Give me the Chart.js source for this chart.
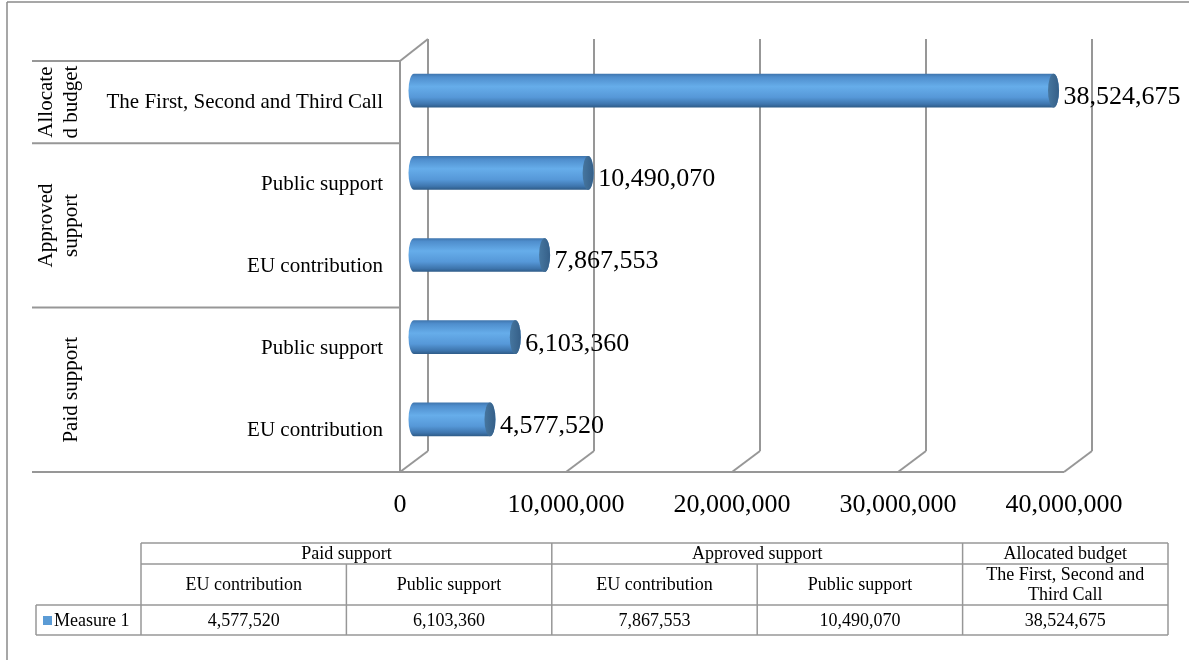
<!DOCTYPE html>
<html>
<head>
<meta charset="utf-8">
<script src="https://cdn.jsdelivr.net/npm/chart.js@4.4.0/dist/chart.umd.min.js"></script>
<style>
  html, body { margin: 0; padding: 0; background: #fff; }
  #wrap { width: 1189px; height: 660px; position: relative; }
</style>
</head>
<body>
<div id="wrap"><canvas id="chart" width="1189" height="660"></canvas></div>
<script>
// data, in table order (first item is drawn at the bottom of the axis)
const groups = ['Paid support', 'Paid support', 'Approved support', 'Approved support', 'Allocated budget'];
const categories = ['EU contribution', 'Public support', 'EU contribution', 'Public support', 'The First, Second and Third Call'];
const values = [4577520, 6103360, 7867553, 10490070, 38524675];
const xTicks = [0, 10000000, 20000000, 30000000, 40000000];
const seriesName = 'Measure 1';
// how the group names wrap on the rotated axis
const groupAxisLines = {
    'Paid support': ['', 'Paid support'],
    'Approved support': ['Approved', 'support'],
    'Allocated budget': ['Allocate', 'd budget']
};

const SERIF = "'Liberation Serif', 'Times New Roman', serif";
const LINE = '#979797';
const DEPTH_X = 28, DEPTH_Y = 21;   // back wall offset

const fmt = v => Number(v).toLocaleString('en-US');

// group runs: [{name, from, to}]
function groupRuns() {
    const runs = [];
    groups.forEach((g, i) => {
        const last = runs[runs.length - 1];
        if (last && last.name === g) last.to = i;
        else runs.push({ name: g, from: i, to: i });
    });
    return runs;
}

function line(ctx, x1, y1, x2, y2) {
    ctx.beginPath();
    ctx.moveTo(x1, y1);
    ctx.lineTo(x2, y2);
    ctx.stroke();
}

// walls, grid and the multi-level category lines
const wallsPlugin = {
    id: 'walls',
    beforeDatasetsDraw(chart) {
        const { ctx, chartArea: a, scales: { x, y } } = chart;
        ctx.save();
        ctx.strokeStyle = LINE;
        ctx.lineWidth = 2;
        // left wall
        line(ctx, a.left, a.top, a.left, a.bottom);
        line(ctx, a.left, a.top, a.left + DEPTH_X, a.top - DEPTH_Y - 1);
        // back gridlines with floor diagonals
        xTicks.forEach(v => {
            const px = x.getPixelForValue(v);
            line(ctx, px + DEPTH_X, a.top - DEPTH_Y - 1, px + DEPTH_X, a.bottom - DEPTH_Y);
            line(ctx, px, a.bottom, px + DEPTH_X, a.bottom - DEPTH_Y);
        });
        // floor front edge + category table lines
        const catH = (a.bottom - a.top) / categories.length;
        const tableLeft = 32;
        line(ctx, tableLeft, a.bottom, x.getPixelForValue(xTicks[xTicks.length - 1]), a.bottom);
        groupRuns().forEach(run => {
            const p1 = y.getPixelForValue(run.from), p2 = y.getPixelForValue(run.to);
            const top = Math.min(p1, p2) - catH / 2;
            const bottom = Math.max(p1, p2) + catH / 2;
            line(ctx, tableLeft, top, a.left, top);
            // rotated group name
            const lines = groupAxisLines[run.name] || [run.name];
            ctx.fillStyle = '#000';
            ctx.font = '21px ' + SERIF;
            ctx.textAlign = 'center';
            ctx.textBaseline = 'middle';
            lines.forEach((t, k) => {
                if (!t) return;
                ctx.save();
                ctx.translate(46 + k * 25, (top + bottom) / 2);
                ctx.rotate(-Math.PI / 2);
                ctx.fillText(t, 0, 0);
                ctx.restore();
            });
        });
        ctx.restore();
    }
};

function cylinder(ctx, x0, x1, yc, h) {
    const r = h / 2, rx = 5.5;
    const g = ctx.createLinearGradient(0, yc - r, 0, yc + r);
    g.addColorStop(0, '#3f75ad');
    g.addColorStop(0.1, '#4f8ecd');
    g.addColorStop(0.38, '#66adea');
    g.addColorStop(0.7, '#5698d8');
    g.addColorStop(0.9, '#3e75ad');
    g.addColorStop(1, '#2e5b87');
    ctx.beginPath();
    ctx.ellipse(x0, yc, rx, r, 0, Math.PI / 2, Math.PI * 1.5);
    ctx.lineTo(x1, yc - r);
    ctx.ellipse(x1, yc, rx, r, 0, -Math.PI / 2, Math.PI / 2);
    ctx.closePath();
    ctx.fillStyle = g;
    ctx.fill();
    // end cap
    const c = ctx.createLinearGradient(x1 - rx, 0, x1 + rx, 0);
    c.addColorStop(0, '#46769f');
    c.addColorStop(1, '#355f88');
    ctx.beginPath();
    ctx.ellipse(x1, yc, rx, r, 0, 0, Math.PI * 2);
    ctx.fillStyle = c;
    ctx.fill();
}

// cylinder bars and value labels
const cylinderPlugin = {
    id: 'cylinders',
    afterDatasetsDraw(chart) {
        const { ctx } = chart;
        const meta = chart.getDatasetMeta(0);
        ctx.save();
        meta.data.forEach((bar, i) => {
            const dx = DEPTH_X / 2, dy = -11.5;
            cylinder(ctx, bar.base + dx, bar.x + dx, bar.y + dy, bar.height);
            ctx.fillStyle = '#000';
            ctx.font = '26px ' + SERIF;
            ctx.textAlign = 'left';
            ctx.textBaseline = 'middle';
            ctx.fillText(fmt(values[i]), bar.x + 24, bar.y - 5);
        });
        ctx.restore();
    }
};

// data table under the chart, plus the outer frame
const tablePlugin = {
    id: 'dataTable',
    afterDraw(chart) {
        const { ctx } = chart;
        const left = 141, right = 1168, legendLeft = 36;
        const rows = [543, 564, 605, 635];
        const colW = (right - left) / categories.length;
        ctx.save();
        ctx.strokeStyle = LINE;
        ctx.lineWidth = 1.5;
        ctx.fillStyle = '#000';
        ctx.font = '18px ' + SERIF;
        ctx.textAlign = 'center';
        ctx.textBaseline = 'middle';

        // header row 1: groups
        line(ctx, left, rows[0], right, rows[0]);
        groupRuns().forEach(run => {
            const x0 = left + run.from * colW, x1 = left + (run.to + 1) * colW;
            line(ctx, x0, rows[0], x0, rows[1]);
            ctx.fillText(run.name, (x0 + x1) / 2, (rows[0] + rows[1]) / 2 + 1);
        });
        line(ctx, right, rows[0], right, rows[3]);
        line(ctx, left, rows[1], right, rows[1]);

        // header row 2: categories (wrapped to the cell)
        categories.forEach((c, i) => {
            const x0 = left + i * colW;
            line(ctx, x0, rows[1], x0, rows[3]);
            const words = c.split(' ');
            const lines = [];
            let cur = '';
            words.forEach(w => {
                const t = cur ? cur + ' ' + w : w;
                if (ctx.measureText(t).width > colW - 24 && cur) { lines.push(cur); cur = w; }
                else cur = t;
            });
            lines.push(cur);
            const mid = (rows[1] + rows[2]) / 2;
            lines.forEach((t, k) => {
                ctx.fillText(t, x0 + colW / 2, mid + (k - (lines.length - 1) / 2) * 20 + 1);
            });
        });

        // values row with the legend key
        line(ctx, legendLeft, rows[2], right, rows[2]);
        line(ctx, legendLeft, rows[3], right, rows[3]);
        line(ctx, legendLeft, rows[2], legendLeft, rows[3]);
        const yMid = (rows[2] + rows[3]) / 2 + 1;
        values.forEach((v, i) => ctx.fillText(fmt(v), left + (i + 0.5) * colW, yMid));
        ctx.fillStyle = '#5b9bd5';
        ctx.fillRect(43, yMid - 5, 9, 9);
        ctx.fillStyle = '#000';
        ctx.textAlign = 'left';
        ctx.fillText(seriesName, 54, yMid);

        // outer frame (top and left edges)
        ctx.strokeStyle = '#8a8a8a';
        line(ctx, 7, 2, chart.width, 2);
        line(ctx, 7, 2, 7, chart.height);
        ctx.restore();
    }
};

new Chart(document.getElementById('chart'), {
    type: 'bar',
    data: {
        labels: categories,
        datasets: [{
            label: seriesName,
            data: values,
            backgroundColor: 'rgba(0,0,0,0)',
            borderWidth: 0,
            categoryPercentage: 1,
            barPercentage: 0.41
        }]
    },
    options: {
        indexAxis: 'y',
        responsive: false,
        animation: false,
        events: [],
        layout: { padding: { left: 32, top: 61, right: 125, bottom: 0 } },
        plugins: {
            legend: { display: false },
            tooltip: { enabled: false },
            title: { display: false }
        },
        scales: {
            x: {
                min: 0,
                max: 40000000,
                afterBuildTicks: scale => { scale.ticks = xTicks.map(v => ({ value: v })); },
                afterFit: scale => { scale.height = 188; },
                grid: { display: false, drawTicks: false },
                border: { display: false },
                ticks: {
                    padding: 18,
                    color: '#000',
                    font: { family: SERIF, size: 26 },
                    maxRotation: 0,
                    callback: v => fmt(v)
                }
            },
            y: {
                reverse: true,
                afterFit: scale => { scale.width = 368; },
                grid: { display: false, drawTicks: false },
                border: { display: false },
                ticks: {
                    padding: 17,
                    color: '#000',
                    font: { family: SERIF, size: 21 }
                }
            }
        }
    },
    plugins: [wallsPlugin, cylinderPlugin, tablePlugin]
});
</script>
</body>
</html>
